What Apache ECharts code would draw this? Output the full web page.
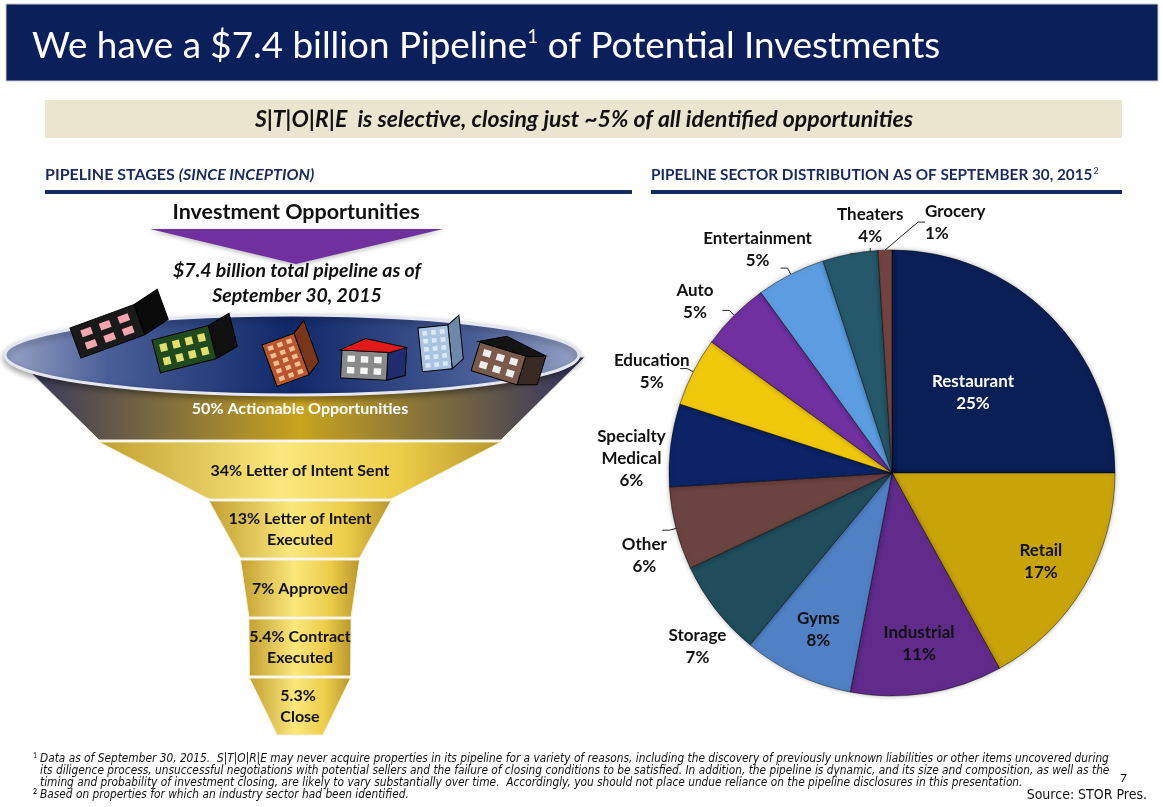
<!DOCTYPE html>
<html>
<head>
<meta charset="utf-8">
<script src="https://cdn.jsdelivr.net/npm/echarts@6/dist/echarts.min.js"></script>
<style>
  html, body { margin: 0; padding: 0; background: #fff; }
  #main { width: 1163px; height: 807px; }
</style>
</head>
<body>
<div id="main"></div>
<script>
// pipeline funnel stages (share of all identified opportunities)
const stageNames = ['Actionable Opportunities', 'Letter of Intent Sent', 'Letter of Intent\nExecuted', 'Approved', 'Contract\nExecuted', '\nClose'];
const stagePct = [50, 34, 13, 7, 5.4, 5.3];

// sector distribution as of 9/30/2015
const sectors = ['Restaurant', 'Retail', 'Industrial', 'Gyms', 'Storage', 'Other', 'Specialty\nMedical', 'Education', 'Auto', 'Entertainment', 'Theaters', 'Grocery'];
const sectorPct = [25, 17, 11, 8, 7, 6, 6, 5, 5, 5, 4, 1];
// where each label sits: centre of slice, near the rim, beside the top, or just outside
const centreLabels = ['Restaurant'];
const rimLabels = ['Retail', 'Industrial', 'Gyms'];
const topLabels = ['Theaters', 'Grocery'];
const noLeader = ['Storage', 'Specialty\nMedical'];

const sectorColors = ['#0b1f57', '#c9a408', '#612b8c', '#4f81c4', '#1f4d5c', '#6b4341', '#0c2466', '#f0c80a', '#7030a0', '#5b9de0', '#24586a', '#74433f'];

const FONT = 'Lato, "Open Sans", sans-serif';
const NARROW = '"Liberation Sans Narrow", "DejaVu Sans Condensed", sans-serif';
const NAVY = '#0b1f5b';

var chart = echarts.init(document.getElementById('main'));

function grad(stops) {
    return new echarts.graphic.LinearGradient(0, 0, 1, 0, stops.map(c => ({ offset: c[0], color: c[1] })));
}
const bandTop = grad([[0, '#2e3160'], [0.5, '#c9a41e'], [1, '#2e3160']]);
const bandGold = grad([[0, '#c2a030'], [0.45, '#fbe77c'], [0.75, '#eccd4a'], [1, '#b8962a']]);

// little clip-art style buildings sitting in the funnel bowl
function building(x, y, rot, w, h, face, side, win, roof, cols, rows) {
    const kids = [];
    kids.push({ type: 'polygon', shape: { points: [[w, 0], [w + w * 0.4, -h * 0.2], [w + w * 0.4, h * 0.8], [w, h]] }, style: { fill: side, stroke: '#000', lineWidth: 1 } });
    kids.push({ type: 'rect', shape: { x: 0, y: 0, width: w, height: h }, style: { fill: face, stroke: '#000', lineWidth: 1 } });
    if (roof) {
        kids.push({ type: 'polygon', shape: { points: [[-2, 0], [w * 0.5, -h * 0.45], [w + w * 0.4, -h * 0.2], [w + 2, 0]] }, style: { fill: roof, stroke: '#000', lineWidth: 1 } });
    }
    const ww = w / (cols * 1.8 + 0.8), wh = h / (rows * 1.8 + 0.8);
    for (let r = 0; r < rows; r++) {
        for (let c = 0; c < cols; c++) {
            kids.push({ type: 'rect', shape: { x: ww * 0.8 + c * ww * 1.8, y: wh * 0.8 + r * wh * 1.8, width: ww, height: wh }, style: { fill: win } });
        }
    }
    kids.forEach(k => { k.z = 20; });
    return { type: 'group', x: x, y: y, rotation: rot, children: kids };
}

const footnotes = [
    'Data as of September 30, 2015.  S|T|O|R|E may never acquire properties in its pipeline for a variety of reasons, including the discovery of previously unknown liabilities or other items uncovered during',
    'its diligence process, unsuccessful negotiations with potential sellers and the failure of closing conditions to be satisfied. In addition, the pipeline is dynamic, and its size and composition, as well as the',
    'timing and probability of investment closing, are likely to vary substantially over time.  Accordingly, you should not place undue reliance on the pipeline disclosures in this presentation.',
    'Based on properties for which an industry sector had been identified.'
];
const NOTE_FONT = 'italic 11.5px ' + NARROW;

function centred(x, y, text, font) {
    return { type: 'text', x: x, y: y, style: { text: text, font: font, fill: '#111', textAlign: 'center', textVerticalAlign: 'middle' } };
}
function note(y, text) {
    return { type: 'text', x: 40, y: y, scaleX: 1.025, style: { text: text, font: NOTE_FONT, fill: '#111', textVerticalAlign: 'middle' } };
}

const graphics = [
    // title bar
    { type: 'rect', shape: { x: 6, y: 4, width: 1152, height: 77 }, style: { fill: NAVY, stroke: '#c8c8c8', lineWidth: 1 } },
    { type: 'text', x: 32, y: 46, style: {
        text: '{a|We have a $7.4 billion Pipeline}{s|1}{a| of Potential Investments}',
        textVerticalAlign: 'middle', fill: '#fff',
        rich: { a: { fontFamily: FONT, fontSize: 36.8, fill: '#fff' }, s: { fontFamily: FONT, fontSize: 19, fill: '#fff', verticalAlign: 'top', padding: [0, 0, 14, 0] } }
    } },
    // banner
    { type: 'rect', shape: { x: 45, y: 100, width: 1077, height: 38 }, style: { fill: '#e9e5cf' } },
    centred(584, 120, 'S|T|O|R|E  is selective, closing just ~5% of all identified opportunities', 'italic bold 23px ' + FONT),
    // section headers
    { type: 'text', x: 45, y: 175, style: {
        text: '{b|PIPELINE STAGES }{i|(SINCE INCEPTION)}', textVerticalAlign: 'middle',
        rich: { b: { fontFamily: FONT, fontWeight: 'bold', fontSize: 16, fill: '#1b2a5e' }, i: { fontFamily: FONT, fontWeight: 'bold', fontStyle: 'italic', fontSize: 16, fill: '#1b2a5e' } }
    } },
    { type: 'text', x: 651, y: 175, style: {
        text: '{b|PIPELINE SECTOR DISTRIBUTION AS OF SEPTEMBER 30, 2015}{s|2}', textVerticalAlign: 'middle',
        rich: { b: { fontFamily: FONT, fontWeight: 'bold', fontSize: 15.3, fill: '#1b2a5e' }, s: { fontFamily: FONT, fontSize: 9, fill: '#1b2a5e', verticalAlign: 'top', padding: [0, 0, 8, 1] } }
    } },
    { type: 'rect', shape: { x: 45, y: 190, width: 587, height: 4 }, style: { fill: '#1b2a5e' } },
    { type: 'rect', shape: { x: 651, y: 190, width: 471, height: 4 }, style: { fill: '#1b2a5e' } },
    // funnel intro
    centred(296, 212, 'Investment Opportunities', 'bold 21.5px ' + FONT),
    { type: 'polygon', shape: { points: [[150, 229], [443, 229], [296, 264]] }, style: { fill: '#7030a0', shadowBlur: 4, shadowColor: 'rgba(0,0,0,0.25)', shadowOffsetY: 2 } },
    centred(297, 271, '$7.4 billion total pipeline as of', 'italic bold 19.5px ' + FONT),
    centred(297, 296, 'September 30, 2015', 'italic bold 19.5px ' + FONT),
    // funnel bowl
    { type: 'ellipse', z: 15, shape: { cx: 292, cy: 355, rx: 287, ry: 40 },
      style: { fill: new echarts.graphic.LinearGradient(0, 0, 1, 0, [{ offset: 0, color: '#98a4c6' }, { offset: 0.18, color: '#4a5f98' }, { offset: 0.5, color: '#0f2868' }, { offset: 0.82, color: '#4a5f98' }, { offset: 1, color: '#98a4c6' }]),
               stroke: '#e4e7ef', lineWidth: 3, shadowBlur: 6, shadowColor: 'rgba(0,0,0,0.35)', shadowOffsetY: 3 } },
    building(70, 328, 0.35, 68, 32, '#1a1a1a', '#0a0a0a', '#f2a6b0', null, 3, 2),
    building(152, 340, 0.25, 58, 34, '#1f4a1f', '#111', '#e2df6a', null, 4, 2),
    building(262, 345, 0.35, 34, 44, '#b8552e', '#7a3518', '#f0c090', null, 3, 5),
    building(342, 350, -0.05, 46, 28, '#8a8a8a', '#1f2c6e', '#f5f5f5', '#e01a1a', 3, 2),
    building(418, 328, 0.1, 30, 44, '#a8c4e0', '#6d88a8', '#dbe8f5', null, 3, 5),
    building(480, 342, -0.3, 48, 30, '#7a5a4a', '#3a2a24', '#eee', '#141414', 3, 2),
    // footnotes
    { type: 'text', x: 33, y: 752, style: { text: '1', font: '7px ' + FONT, fill: '#111' } },
    note(759, footnotes[0]),
    note(771, footnotes[1]),
    note(783, footnotes[2]),
    { type: 'text', x: 33, y: 788, style: { text: '2', font: 'bold 7px ' + FONT, fill: '#111' } },
    note(795, footnotes[3]),
    { type: 'text', x: 1120, y: 778, style: { text: '7', font: '12px ' + FONT, fill: '#111', textVerticalAlign: 'middle' } },
    { type: 'text', x: 1147, y: 795, style: { text: 'Source: STOR Pres.', font: '14px ' + NARROW, fill: '#111', textAlign: 'right', textVerticalAlign: 'middle' } }
];

const labelFont = { color: '#111', fontFamily: FONT, fontWeight: 'bold', fontSize: 17, lineHeight: 22 };
const has = (list, s) => list.indexOf(s) >= 0;
const isOuter = s => !has(centreLabels, s) && !has(rimLabels, s) && !has(topLabels, s);

// transparent pie that only carries centred labels at a given radius
function labelPie(outerRadius, startAngle, show) {
    return {
        type: 'pie',
        silent: true,
        center: [892, 473],
        radius: [0, outerRadius],
        startAngle: startAngle,
        clockwise: true,
        z: 4,
        itemStyle: { color: 'rgba(0,0,0,0)', borderWidth: 0 },
        label: Object.assign({ show: true, position: 'inside', formatter: '{b}\n{c}%' }, labelFont),
        labelLine: { show: false },
        emphasis: { disabled: true },
        data: sectors.map((s, i) => ({ name: s, value: sectorPct[i], label: { show: show(s) } }))
    };
}

var option = {
    animation: false,
    graphic: { elements: graphics },
    series: [
        {
            type: 'funnel',
            z: 3,
            left: 15, top: 357, width: 570, height: 352,
            min: 0, max: 50,
            minSize: '8%', maxSize: '100%',
            sort: 'descending',
            gap: 2,
            label: {
                show: true, position: 'inside',
                formatter: p => p.dataIndex === 0 ? '{g|}\n{w|' + p.value + '% ' + p.name + '}' : p.value + '% ' + p.name,
                color: '#111', fontFamily: FONT, fontWeight: 'bold', fontSize: 16, lineHeight: 21,
                rich: { g: { height: 28 }, w: { color: '#fff', fontFamily: FONT, fontWeight: 'bold', fontSize: 16, lineHeight: 21 } }
            },
            labelLine: { show: false },
            itemStyle: { borderColor: '#f4f0dc', borderWidth: 1 },
            emphasis: { disabled: true },
            data: stageNames.map((n, i) => ({
                name: n, value: stagePct[i],
                itemStyle: i === 0 ? { height: 83, color: bandTop } : { color: bandGold }
            }))
        },
        {
            type: 'pie',
            center: [892, 473],
            radius: 223,
            startAngle: 90,
            clockwise: true,
            avoidLabelOverlap: false,
            label: Object.assign({ show: true, position: 'outside', formatter: p => isOuter(p.name) ? ' ' : p.name + '\n' + p.value + '%' }, labelFont),
            labelLine: { show: true, length: 7, length2: 7, lineStyle: { color: '#222', width: 1 } },
            // the two thin slices at the top carry their labels above the rim, as in the slide
            labelLayout: p => {
                const s = sectors[p.dataIndex];
                if (!has(topLabels, s)) return null;
                const start = p.labelLinePoints[0];
                return s === 'Grocery'
                    ? { x: start[0] + 40, y: start[1] - 28, align: 'left', verticalAlign: 'middle' }
                    : { x: start[0] + 20, y: start[1] - 28, align: 'center', verticalAlign: 'middle' };
            },
            itemStyle: { borderColor: 'rgba(0,0,0,0.45)', borderWidth: 1, shadowBlur: 5, shadowColor: 'rgba(0,0,0,0.3)' },
            emphasis: { disabled: true },
            data: sectors.map((s, i) => {
                const inside = has(centreLabels, s);
                const rim = has(rimLabels, s);
                return {
                    name: s, value: sectorPct[i],
                    itemStyle: { color: sectorColors[i] },
                    label: inside ? { position: 'inside', color: '#fff' } : rim ? { show: false } : {},
                    labelLine: inside || rim || has(noLeader, s) ? { show: false } : {}
                };
            })
        },
        labelPie(340, 90, s => has(rimLabels, s)),
        labelPie(516, 94, isOuter)
    ]
};
chart.setOption(option);
</script>
</body>
</html>
